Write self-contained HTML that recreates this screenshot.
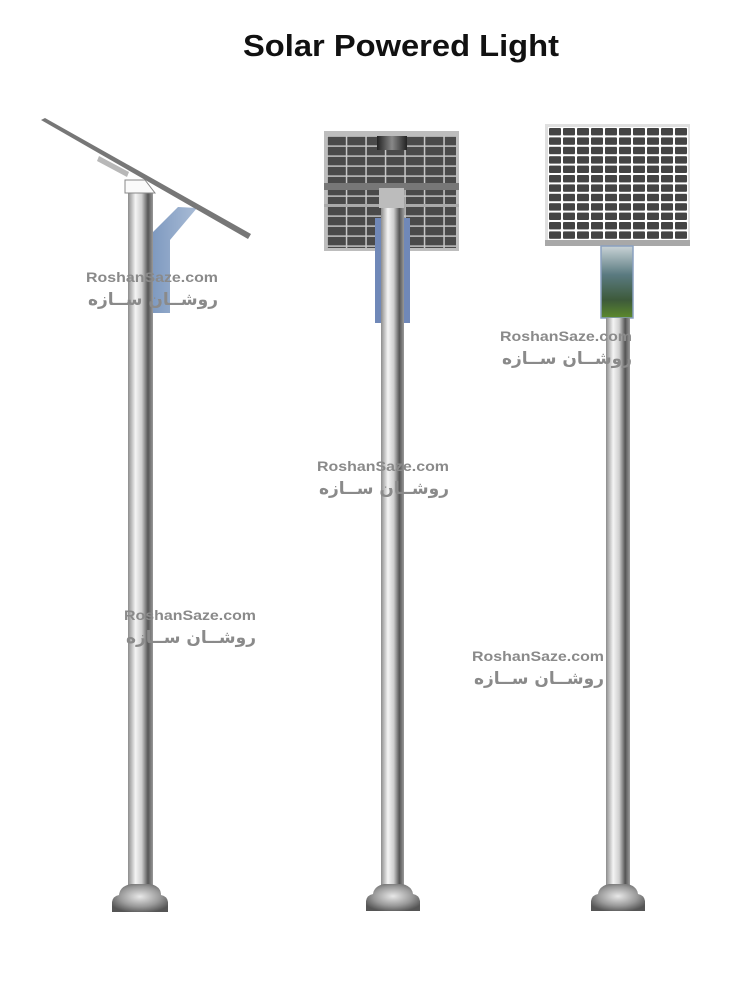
<!DOCTYPE html>
<html><head><meta charset="utf-8"><style>
html,body{margin:0;padding:0;background:#fff;}
svg{display:block;}
.wm1{font-family:"Liberation Sans",sans-serif;font-weight:bold;font-size:14px;fill:#8a8a8a;}
.wm2{font-family:"DejaVu Sans",sans-serif;font-weight:bold;font-size:17px;fill:#8a8a8a;}
</style></head><body>
<svg width="736" height="981" viewBox="0 0 736 981" xmlns="http://www.w3.org/2000/svg">
<defs>
<linearGradient id="pole" x1="0" x2="1" y1="0" y2="0">
<stop offset="0" stop-color="#8c8c8c"/><stop offset="0.3" stop-color="#f4f4f4"/><stop offset="0.55" stop-color="#cfcfcf"/><stop offset="0.8" stop-color="#555"/><stop offset="1" stop-color="#9a9a9a"/>
</linearGradient>
<radialGradient id="base" cx="0.5" cy="0.45" r="0.6">
<stop offset="0" stop-color="#e8e8e8"/><stop offset="0.6" stop-color="#999"/><stop offset="1" stop-color="#555"/>
</radialGradient>
<linearGradient id="blue" x1="0" x2="1"><stop offset="0" stop-color="#7f9ac0"/><stop offset="1" stop-color="#a9bcd6"/></linearGradient>
<linearGradient id="img" x1="0" x2="0" y1="0" y2="1"><stop offset="0" stop-color="#c9d3d6"/><stop offset="0.4" stop-color="#5a7a80"/><stop offset="0.75" stop-color="#3d5a3a"/><stop offset="1" stop-color="#5c8a2c"/></linearGradient>
<linearGradient id="box" x1="0" x2="1"><stop offset="0" stop-color="#222"/><stop offset="0.5" stop-color="#888"/><stop offset="1" stop-color="#222"/></linearGradient>
<pattern id="c3" x="548" y="127" width="14" height="9.4" patternUnits="userSpaceOnUse">
<rect width="14" height="9.4" fill="#fff"/><rect x="1" y="1" width="12" height="7.4" rx="1" fill="#444"/>
</pattern>
<pattern id="c2" x="327" y="136" width="19.5" height="10" patternUnits="userSpaceOnUse">
<rect width="19.5" height="10" fill="#c8c8c8"/><rect x="0.8" y="0.8" width="18" height="8.6" fill="#4a4a4a"/>
</pattern>
</defs>

<text x="401" y="56" text-anchor="middle" font-family="Liberation Sans,sans-serif" font-weight="bold" font-size="31" fill="#111" textLength="316" lengthAdjust="spacingAndGlyphs">Solar Powered Light</text>

<!-- Lamp 1 -->
<polygon points="153,313 153,232 178,207 197,208 170,240 170,313" fill="url(#blue)"/>
<rect x="128" y="193" width="25" height="695" fill="url(#pole)"/>
<polygon points="125,180 145,180 155,193 125,193" fill="#fafafa" stroke="#888" stroke-width="1"/>
<polygon points="99,156 129,172 127,177 97,161" fill="#b8b8b8"/>
<polygon points="41,120 45,118 251,234 248,239" fill="#777"/>
<path d="M112,912 L112,902 Q113,896 119,895 Q120,886 131,884 L150,884 Q161,886 161,895 Q167,896 168,902 L168,912 Z" fill="url(#base)"/>

<!-- Lamp 2 -->
<rect x="324" y="131" width="135" height="120" fill="#bdbdbd"/>
<rect x="327" y="136" width="129" height="112" fill="url(#c2)"/>
<rect x="377" y="136" width="30" height="14" fill="url(#box)"/>
<rect x="324" y="183" width="135" height="7" fill="#777"/>
<rect x="324" y="204" width="135" height="3" fill="#aaa"/>
<rect x="379" y="188" width="25" height="20" fill="#bcbcbc"/>
<rect x="375" y="218" width="7" height="105" fill="#7088b8"/>
<rect x="403" y="218" width="7" height="105" fill="#7088b8"/>
<rect x="381" y="208" width="23" height="680" fill="url(#pole)"/>
<path d="M366,911 L366,901 Q367,895 373,894 Q374,886 384,884 L402,884 Q412,886 413,894 Q419,895 420,901 L420,911 Z" fill="url(#base)"/>

<!-- Lamp 3 -->
<rect x="545" y="124" width="145" height="118" fill="#e0e0e0"/>
<rect x="548" y="127" width="140" height="113" fill="url(#c3)"/>
<rect x="545" y="240" width="145" height="6" fill="#a8a8a8"/>
<rect x="601" y="246" width="32" height="72" fill="url(#img)" stroke="#8aa0c0" stroke-width="1.5"/>
<rect x="606" y="318" width="24" height="570" fill="url(#pole)"/>
<path d="M591,911 L591,901 Q592,895 598,894 Q599,886 609,884 L627,884 Q637,886 638,894 Q644,895 645,901 L645,911 Z" fill="url(#base)"/>

<!-- Watermarks -->
<g>
<text class="wm1" x="86" y="282" textLength="132" lengthAdjust="spacingAndGlyphs">RoshanSaze.com</text>
<text class="wm2" x="218" y="305" text-anchor="end">روشــان ســازه</text>
<text class="wm1" x="317" y="471" textLength="132" lengthAdjust="spacingAndGlyphs">RoshanSaze.com</text>
<text class="wm2" x="449" y="494" text-anchor="end">روشــان ســازه</text>
<text class="wm1" x="124" y="620" textLength="132" lengthAdjust="spacingAndGlyphs">RoshanSaze.com</text>
<text class="wm2" x="256" y="643" text-anchor="end">روشــان ســازه</text>
<text class="wm1" x="500" y="341" textLength="132" lengthAdjust="spacingAndGlyphs">RoshanSaze.com</text>
<text class="wm2" x="632" y="364" text-anchor="end">روشــان ســازه</text>
<text class="wm1" x="472" y="661" textLength="132" lengthAdjust="spacingAndGlyphs">RoshanSaze.com</text>
<text class="wm2" x="604" y="684" text-anchor="end">روشــان ســازه</text>
</g>
</svg>
</body></html>
